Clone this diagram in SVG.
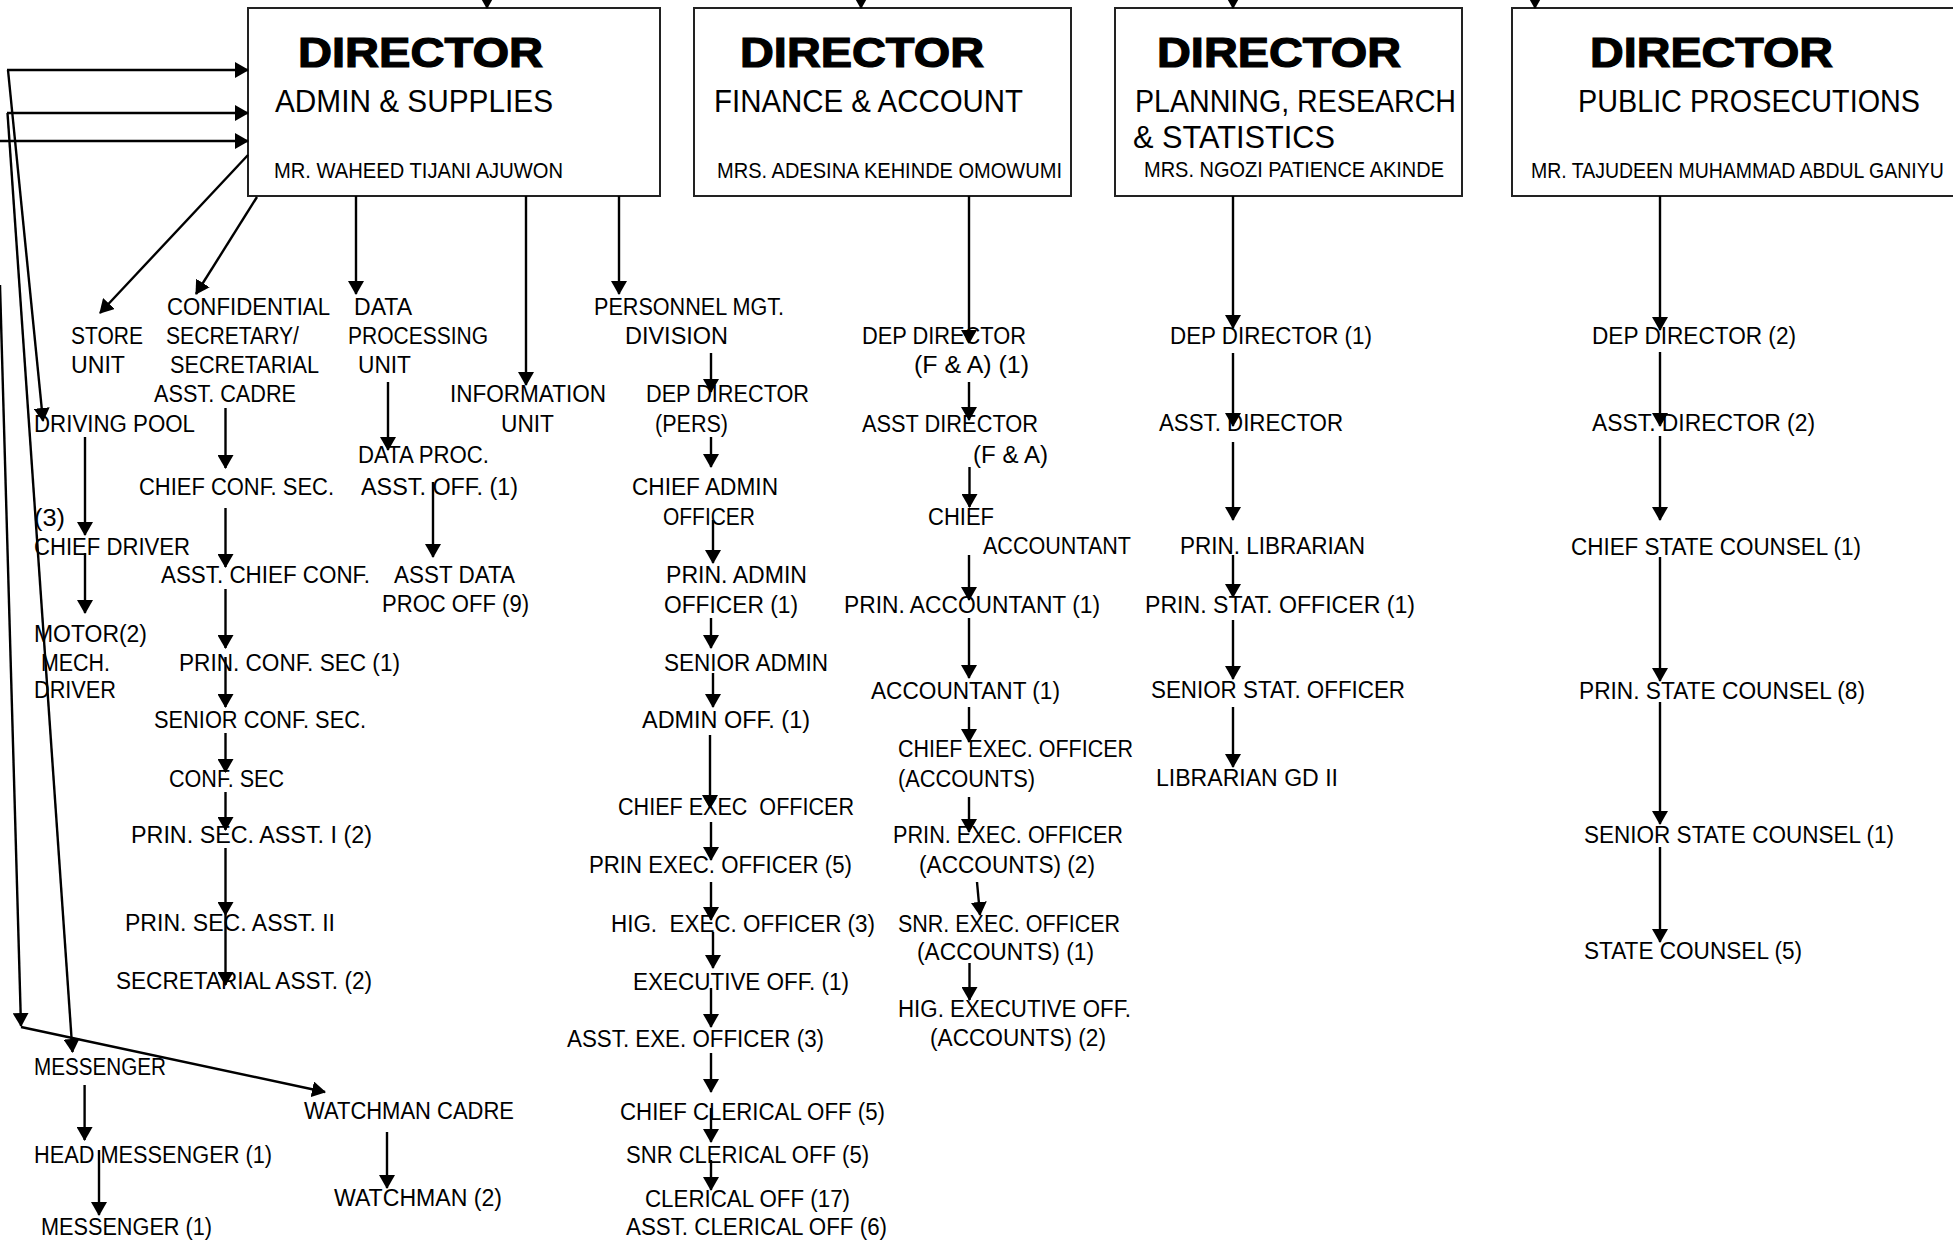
<svg xmlns="http://www.w3.org/2000/svg" width="1953" height="1240" viewBox="0 0 1953 1240">
<style>
text{font-family:"Liberation Sans",Arial,sans-serif;font-size:23px;fill:#000}
.h{font-weight:bold;font-size:42px;stroke:#000;stroke-width:1.2}
.s{font-size:31px}
.n{font-size:22px}
.box{fill:#fff;stroke:#222;stroke-width:2}
#connectors line{stroke:#000;stroke-width:2.4;fill:none;marker-end:url(#ah)}
</style>
<defs>
<marker id="ah" markerUnits="userSpaceOnUse" viewBox="0 0 14 16" markerWidth="14" markerHeight="16" refX="13" refY="8" orient="auto"><path d="M0,0 L14,8 L0,16 z" fill="#000"/></marker>
</defs>
<rect width="1953" height="1240" fill="#fff"/>

<g id="dir-admin">
<rect class="box" x="248" y="8" width="412" height="188"/>
<text class="h" x="298" y="67" textLength="245" lengthAdjust="spacingAndGlyphs">DIRECTOR</text>
<text class="s" x="275" y="112" textLength="278" lengthAdjust="spacingAndGlyphs">ADMIN &amp; SUPPLIES</text>
<text class="n" x="274" y="178" textLength="289" lengthAdjust="spacingAndGlyphs">MR. WAHEED TIJANI AJUWON</text>
</g>
<g id="dir-finance">
<rect class="box" x="694" y="8" width="377" height="188"/>
<text class="h" x="740" y="67" textLength="244" lengthAdjust="spacingAndGlyphs">DIRECTOR</text>
<text class="s" x="714" y="112" textLength="309" lengthAdjust="spacingAndGlyphs">FINANCE &amp; ACCOUNT</text>
<text class="n" x="717" y="178" textLength="345" lengthAdjust="spacingAndGlyphs">MRS. ADESINA KEHINDE OMOWUMI</text>
</g>
<g id="dir-planning">
<rect class="box" x="1115" y="8" width="347" height="188"/>
<text class="h" x="1157" y="67" textLength="244" lengthAdjust="spacingAndGlyphs">DIRECTOR</text>
<text class="s" x="1135" y="112" textLength="321" lengthAdjust="spacingAndGlyphs">PLANNING, RESEARCH</text>
<text class="s" x="1133" y="148" textLength="202" lengthAdjust="spacingAndGlyphs">&amp; STATISTICS</text>
<text class="n" x="1144" y="177" textLength="300" lengthAdjust="spacingAndGlyphs">MRS. NGOZI PATIENCE AKINDE</text>
</g>
<g id="dir-prosecutions">
<rect class="box" x="1512" y="8" width="460" height="188"/>
<text class="h" x="1590" y="67" textLength="243" lengthAdjust="spacingAndGlyphs">DIRECTOR</text>
<text class="s" x="1578" y="112" textLength="342" lengthAdjust="spacingAndGlyphs">PUBLIC PROSECUTIONS</text>
<text class="n" transform="translate(1531,178) scale(0.885,1)" x="0" y="0">MR. TAJUDEEN MUHAMMAD ABDUL GANIYU</text>
</g>

<g id="store-unit">
<text x="71" y="344" textLength="72" lengthAdjust="spacingAndGlyphs">STORE</text>
<text x="71" y="373" textLength="54" lengthAdjust="spacingAndGlyphs">UNIT</text>
</g>
<g id="confidential">
<text x="167" y="315" textLength="163" lengthAdjust="spacingAndGlyphs">CONFIDENTIAL</text>
<text x="166" y="344" textLength="133" lengthAdjust="spacingAndGlyphs">SECRETARY/</text>
<text x="170" y="373" textLength="149" lengthAdjust="spacingAndGlyphs">SECRETARIAL</text>
<text x="154" y="402" textLength="142" lengthAdjust="spacingAndGlyphs">ASST. CADRE</text>
</g>
<g id="data-processing">
<text x="354" y="315" textLength="58" lengthAdjust="spacingAndGlyphs">DATA</text>
<text x="348" y="344" textLength="140" lengthAdjust="spacingAndGlyphs">PROCESSING</text>
<text x="358" y="373" textLength="53" lengthAdjust="spacingAndGlyphs">UNIT</text>
</g>
<g id="information-unit">
<text x="450" y="402" textLength="156" lengthAdjust="spacingAndGlyphs">INFORMATION</text>
<text x="501" y="432" textLength="53" lengthAdjust="spacingAndGlyphs">UNIT</text>
</g>
<g id="personnel">
<text x="594" y="315" textLength="190" lengthAdjust="spacingAndGlyphs">PERSONNEL MGT.</text>
<text x="625" y="344" textLength="103" lengthAdjust="spacingAndGlyphs">DIVISION</text>
</g>
<g id="driving-pool"><text x="34" y="432" textLength="161" lengthAdjust="spacingAndGlyphs">DRIVING POOL</text></g>
<g id="data-proc-asst">
<text x="358" y="463" textLength="131" lengthAdjust="spacingAndGlyphs">DATA PROC.</text>
<text x="361" y="495" textLength="157" lengthAdjust="spacingAndGlyphs">ASST. OFF. (1)</text>
</g>
<g id="chief-conf-sec"><text x="139" y="495" textLength="195" lengthAdjust="spacingAndGlyphs">CHIEF CONF. SEC.</text></g>
<g id="chief-driver">
<text x="34" y="526" textLength="31" lengthAdjust="spacingAndGlyphs">(3)</text>
<text x="34" y="555" textLength="156" lengthAdjust="spacingAndGlyphs">CHIEF DRIVER</text>
</g>
<g id="asst-chief-conf"><text x="161" y="583" textLength="209" lengthAdjust="spacingAndGlyphs">ASST. CHIEF CONF.</text></g>
<g id="asst-data-proc">
<text x="394" y="583" textLength="121" lengthAdjust="spacingAndGlyphs">ASST DATA</text>
<text x="382" y="612" textLength="147" lengthAdjust="spacingAndGlyphs">PROC OFF (9)</text>
</g>
<g id="motor-mech">
<text x="34" y="642" textLength="113" lengthAdjust="spacingAndGlyphs">MOTOR(2)</text>
<text x="41" y="671" textLength="69" lengthAdjust="spacingAndGlyphs">MECH.</text>
<text x="34" y="698" textLength="82" lengthAdjust="spacingAndGlyphs">DRIVER</text>
</g>
<g id="prin-conf-sec"><text x="179" y="671" textLength="221" lengthAdjust="spacingAndGlyphs">PRIN. CONF. SEC (1)</text></g>
<g id="senior-conf-sec"><text x="154" y="728" textLength="212" lengthAdjust="spacingAndGlyphs">SENIOR CONF. SEC.</text></g>
<g id="conf-sec"><text x="169" y="787" textLength="115" lengthAdjust="spacingAndGlyphs">CONF. SEC</text></g>
<g id="prin-sec-asst-1"><text x="131" y="843" textLength="241" lengthAdjust="spacingAndGlyphs">PRIN. SEC. ASST. I (2)</text></g>
<g id="prin-sec-asst-2"><text x="125" y="931" textLength="210" lengthAdjust="spacingAndGlyphs">PRIN. SEC. ASST. II</text></g>
<g id="secretarial-asst"><text x="116" y="989" textLength="256" lengthAdjust="spacingAndGlyphs">SECRETARIAL ASST. (2)</text></g>
<g id="messenger"><text x="34" y="1075" textLength="132" lengthAdjust="spacingAndGlyphs">MESSENGER</text></g>
<g id="watchman-cadre"><text x="304" y="1119" textLength="210" lengthAdjust="spacingAndGlyphs">WATCHMAN CADRE</text></g>
<g id="head-messenger"><text x="34" y="1163" textLength="238" lengthAdjust="spacingAndGlyphs">HEAD MESSENGER (1)</text></g>
<g id="watchman"><text x="334" y="1206" textLength="168" lengthAdjust="spacingAndGlyphs">WATCHMAN (2)</text></g>
<g id="messenger-1"><text x="41" y="1235" textLength="171" lengthAdjust="spacingAndGlyphs">MESSENGER (1)</text></g>

<g id="dep-director-pers">
<text x="646" y="402" textLength="163" lengthAdjust="spacingAndGlyphs">DEP DIRECTOR</text>
<text x="655" y="432" textLength="73" lengthAdjust="spacingAndGlyphs">(PERS)</text>
</g>
<g id="chief-admin-officer">
<text x="632" y="495" textLength="146" lengthAdjust="spacingAndGlyphs">CHIEF ADMIN</text>
<text x="663" y="525" textLength="92" lengthAdjust="spacingAndGlyphs">OFFICER</text>
</g>
<g id="prin-admin-officer">
<text x="666" y="583" textLength="141" lengthAdjust="spacingAndGlyphs">PRIN. ADMIN</text>
<text x="664" y="613" textLength="134" lengthAdjust="spacingAndGlyphs">OFFICER (1)</text>
</g>
<g id="senior-admin"><text x="664" y="671" textLength="164" lengthAdjust="spacingAndGlyphs">SENIOR ADMIN</text></g>
<g id="admin-off"><text x="642" y="728" textLength="168" lengthAdjust="spacingAndGlyphs">ADMIN OFF. (1)</text></g>
<g id="chief-exec-officer"><text x="618" y="815" textLength="236" lengthAdjust="spacingAndGlyphs" xml:space="preserve">CHIEF EXEC  OFFICER</text></g>
<g id="prin-exec-officer"><text x="589" y="873" textLength="263" lengthAdjust="spacingAndGlyphs">PRIN EXEC. OFFICER (5)</text></g>
<g id="hig-exec-officer"><text x="611" y="932" textLength="264" lengthAdjust="spacingAndGlyphs" xml:space="preserve">HIG.  EXEC. OFFICER (3)</text></g>
<g id="executive-off"><text x="633" y="990" textLength="216" lengthAdjust="spacingAndGlyphs">EXECUTIVE OFF. (1)</text></g>
<g id="asst-exe-officer"><text x="567" y="1047" textLength="257" lengthAdjust="spacingAndGlyphs">ASST. EXE. OFFICER (3)</text></g>
<g id="chief-clerical-off"><text x="620" y="1120" textLength="265" lengthAdjust="spacingAndGlyphs">CHIEF CLERICAL OFF (5)</text></g>
<g id="snr-clerical-off"><text x="626" y="1163" textLength="243" lengthAdjust="spacingAndGlyphs">SNR CLERICAL OFF (5)</text></g>
<g id="clerical-off"><text x="645" y="1207" textLength="205" lengthAdjust="spacingAndGlyphs">CLERICAL OFF (17)</text></g>
<g id="asst-clerical-off"><text x="626" y="1235" textLength="261" lengthAdjust="spacingAndGlyphs">ASST. CLERICAL OFF (6)</text></g>

<g id="dep-director-fa">
<text x="862" y="344" textLength="164" lengthAdjust="spacingAndGlyphs">DEP DIRECTOR</text>
<text x="914" y="373" textLength="115" lengthAdjust="spacingAndGlyphs">(F &amp; A) (1)</text>
</g>
<g id="asst-director-fa">
<text x="862" y="432" textLength="176" lengthAdjust="spacingAndGlyphs">ASST DIRECTOR</text>
<text x="973" y="463" textLength="75" lengthAdjust="spacingAndGlyphs">(F &amp; A)</text>
</g>
<g id="chief-accountant">
<text x="928" y="525" textLength="66" lengthAdjust="spacingAndGlyphs">CHIEF</text>
<text x="983" y="554" textLength="148" lengthAdjust="spacingAndGlyphs">ACCOUNTANT</text>
</g>
<g id="prin-accountant"><text x="844" y="613" textLength="256" lengthAdjust="spacingAndGlyphs">PRIN. ACCOUNTANT (1)</text></g>
<g id="accountant"><text x="871" y="699" textLength="189" lengthAdjust="spacingAndGlyphs">ACCOUNTANT (1)</text></g>
<g id="chief-exec-officer-acc">
<text x="898" y="757" textLength="235" lengthAdjust="spacingAndGlyphs">CHIEF EXEC. OFFICER</text>
<text x="898" y="787" textLength="137" lengthAdjust="spacingAndGlyphs">(ACCOUNTS)</text>
</g>
<g id="prin-exec-officer-acc">
<text x="893" y="843" textLength="230" lengthAdjust="spacingAndGlyphs">PRIN. EXEC. OFFICER</text>
<text x="919" y="873" textLength="176" lengthAdjust="spacingAndGlyphs">(ACCOUNTS) (2)</text>
</g>
<g id="snr-exec-officer-acc">
<text x="898" y="932" textLength="222" lengthAdjust="spacingAndGlyphs">SNR. EXEC. OFFICER</text>
<text x="917" y="960" textLength="177" lengthAdjust="spacingAndGlyphs">(ACCOUNTS) (1)</text>
</g>
<g id="hig-executive-off-acc">
<text x="898" y="1017" textLength="233" lengthAdjust="spacingAndGlyphs">HIG. EXECUTIVE OFF.</text>
<text x="930" y="1046" textLength="176" lengthAdjust="spacingAndGlyphs">(ACCOUNTS) (2)</text>
</g>

<g id="dep-director-1"><text x="1170" y="344" textLength="202" lengthAdjust="spacingAndGlyphs">DEP DIRECTOR (1)</text></g>
<g id="asst-director-prs"><text x="1159" y="431" textLength="184" lengthAdjust="spacingAndGlyphs">ASST. DIRECTOR</text></g>
<g id="prin-librarian"><text x="1180" y="554" textLength="185" lengthAdjust="spacingAndGlyphs">PRIN. LIBRARIAN</text></g>
<g id="prin-stat-officer"><text x="1145" y="613" textLength="270" lengthAdjust="spacingAndGlyphs">PRIN. STAT. OFFICER (1)</text></g>
<g id="senior-stat-officer"><text x="1151" y="698" textLength="254" lengthAdjust="spacingAndGlyphs">SENIOR STAT. OFFICER</text></g>
<g id="librarian-gd-2"><text x="1156" y="786" textLength="182" lengthAdjust="spacingAndGlyphs">LIBRARIAN GD II</text></g>

<g id="dep-director-2"><text x="1592" y="344" textLength="204" lengthAdjust="spacingAndGlyphs">DEP DIRECTOR (2)</text></g>
<g id="asst-director-2"><text x="1592" y="431" textLength="223" lengthAdjust="spacingAndGlyphs">ASST. DIRECTOR (2)</text></g>
<g id="chief-state-counsel"><text x="1571" y="555" textLength="290" lengthAdjust="spacingAndGlyphs">CHIEF STATE COUNSEL (1)</text></g>
<g id="prin-state-counsel"><text x="1579" y="699" textLength="286" lengthAdjust="spacingAndGlyphs">PRIN. STATE COUNSEL (8)</text></g>
<g id="senior-state-counsel"><text x="1584" y="843" textLength="310" lengthAdjust="spacingAndGlyphs">SENIOR STATE COUNSEL (1)</text></g>
<g id="state-counsel"><text x="1584" y="959" textLength="218" lengthAdjust="spacingAndGlyphs">STATE COUNSEL (5)</text></g>

<g id="connectors">
<line x1="487" y1="-30" x2="487" y2="8"/>
<line x1="861" y1="-30" x2="861" y2="8"/>
<line x1="1233" y1="-30" x2="1233" y2="8"/>
<line x1="1535" y1="-30" x2="1535" y2="8"/>
<line x1="248" y1="155" x2="100" y2="313"/>
<line x1="257" y1="197" x2="196" y2="294"/>
<line x1="356" y1="196" x2="356" y2="294"/>
<line x1="526" y1="196" x2="526" y2="385"/>
<line x1="619" y1="196" x2="619" y2="294"/>
<line x1="7" y1="70" x2="248" y2="70"/>
<line x1="7" y1="113" x2="248" y2="113"/>
<line x1="-5" y1="141" x2="248" y2="141"/>
<line x1="8" y1="70" x2="43" y2="421"/>
<line x1="7.5" y1="113" x2="72.5" y2="1052"/>
<line x1="0" y1="285" x2="21" y2="1026"/>
<line x1="21" y1="1027" x2="325" y2="1092"/>
<line x1="85" y1="437" x2="85" y2="535"/>
<line x1="85" y1="553" x2="85" y2="613"/>
<line x1="225.5" y1="408" x2="225.5" y2="468"/>
<line x1="225.5" y1="508" x2="225.5" y2="567"/>
<line x1="225.5" y1="589" x2="225.5" y2="648"/>
<line x1="225.5" y1="657" x2="225.5" y2="707"/>
<line x1="225.5" y1="733" x2="225.5" y2="772"/>
<line x1="225.5" y1="792" x2="225.5" y2="830"/>
<line x1="225.5" y1="848" x2="225.5" y2="915"/>
<line x1="225.5" y1="915" x2="225.5" y2="985"/>
<line x1="388" y1="382" x2="388" y2="450"/>
<line x1="433" y1="482" x2="433" y2="557"/>
<line x1="84.6" y1="1085" x2="84.6" y2="1140"/>
<line x1="99" y1="1150" x2="99" y2="1215"/>
<line x1="387" y1="1132" x2="387" y2="1188"/>
<line x1="711" y1="353" x2="711" y2="392"/>
<line x1="711" y1="437" x2="711" y2="467"/>
<line x1="713" y1="520" x2="713" y2="563"/>
<line x1="711" y1="618" x2="711" y2="648"/>
<line x1="713" y1="673" x2="713" y2="707"/>
<line x1="710" y1="735" x2="710" y2="808"/>
<line x1="711" y1="822" x2="711" y2="860"/>
<line x1="711" y1="882" x2="711" y2="920"/>
<line x1="713" y1="932" x2="713" y2="968"/>
<line x1="711" y1="988" x2="711" y2="1027"/>
<line x1="711" y1="1053" x2="711" y2="1092"/>
<line x1="711" y1="1108" x2="711" y2="1142"/>
<line x1="711" y1="1160" x2="711" y2="1190"/>
<line x1="969" y1="196" x2="969" y2="343"/>
<line x1="969" y1="382" x2="969" y2="420"/>
<line x1="969.5" y1="467" x2="969.5" y2="507"/>
<line x1="969" y1="555" x2="969" y2="600"/>
<line x1="969" y1="618" x2="969" y2="678"/>
<line x1="969" y1="707" x2="969" y2="742"/>
<line x1="969" y1="797" x2="969" y2="832"/>
<line x1="977" y1="882" x2="980" y2="915"/>
<line x1="969.5" y1="963" x2="969.5" y2="1000"/>
<line x1="1233" y1="196" x2="1233" y2="328"/>
<line x1="1233" y1="353" x2="1233" y2="426"/>
<line x1="1233" y1="442" x2="1233" y2="520"/>
<line x1="1233" y1="555" x2="1233" y2="597"/>
<line x1="1233" y1="620" x2="1233" y2="679"/>
<line x1="1233" y1="707" x2="1233" y2="767"/>
<line x1="1660" y1="196" x2="1660" y2="330"/>
<line x1="1660" y1="352" x2="1660" y2="426"/>
<line x1="1660" y1="436" x2="1660" y2="520"/>
<line x1="1660" y1="557" x2="1660" y2="681"/>
<line x1="1660" y1="702" x2="1660" y2="824"/>
<line x1="1660" y1="847" x2="1660" y2="942"/>
</g>
</svg>
